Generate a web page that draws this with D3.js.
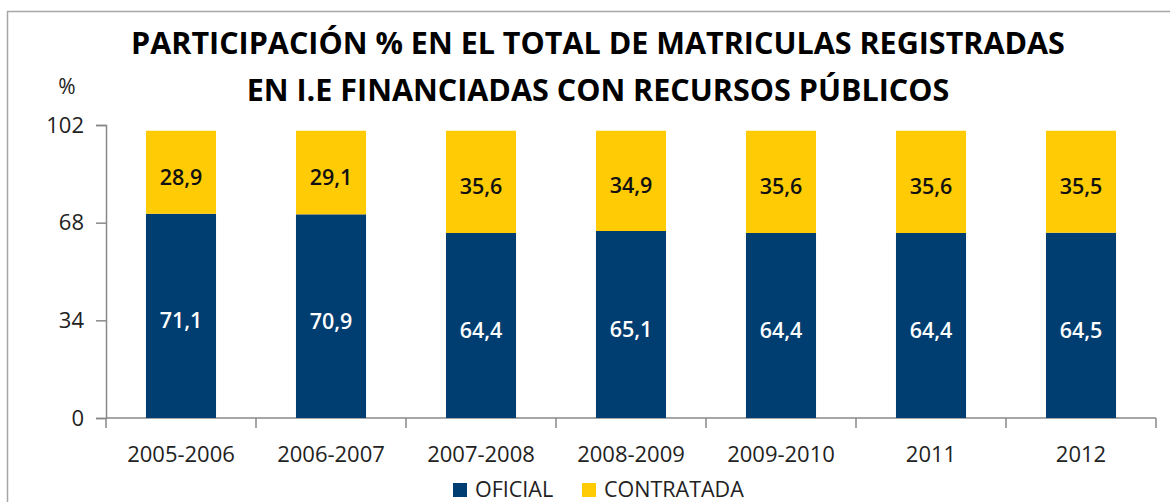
<!DOCTYPE html>
<html><head><meta charset="utf-8">
<script src="https://cdn.jsdelivr.net/npm/d3@7"></script>
<style>body{margin:0;background:#fff}svg{display:block}text{font-family:"Open Sans",sans-serif}</style>
</head><body>
<svg id="c" width="1170" height="502"></svg>
<script>
const categories = ["2005-2006","2006-2007","2007-2008","2008-2009","2009-2010","2011","2012"];
const oficial = [71.1,70.9,64.4,65.1,64.4,64.4,64.5];
const contratada = [28.9,29.1,35.6,34.9,35.6,35.6,35.5];
const yTicks = [0,34,68,102];
const seriesNames = ["OFICIAL","CONTRATADA"];
const colors = ["#003D70","#FFCB05"];
const titleLines = ["PARTICIPACIÓN % EN EL TOTAL DE MATRICULAS REGISTRADAS","EN I.E FINANCIADAS CON RECURSOS PÚBLICOS"];

const svg = d3.select("#c");
// frame
svg.append("path").attr("d","M7.5,502 V11.5 H1170").attr("fill","none").attr("stroke","#a6a6a6").attr("stroke-width",1.5);

const x = d3.scaleBand().domain(categories).range([106,1156]).paddingInner(0.533).paddingOuter(0.2665);
const y = d3.scaleLinear().domain([0,102]).range([418,125]);

// title
svg.selectAll(".title").data(titleLines).join("text")
  .attr("x",598).attr("y",(d,i)=>54+i*47).attr("text-anchor","middle")
  .attr("font-size",30.5).attr("font-weight","bold").attr("fill","#000").text(d=>d);
svg.append("text").attr("x",67).attr("y",94).attr("text-anchor","middle").attr("font-size",21).attr("fill","#222").text("%");

// y axis
const yAxis = svg.append("g").attr("transform","translate(106,0)")
  .call(d3.axisLeft(y).tickValues(yTicks).tickSize(10).tickPadding(12).tickFormat(d3.format("d")));
yAxis.select(".domain").attr("stroke","#888").attr("stroke-width",1.5);
yAxis.selectAll(".tick line").attr("stroke","#888").attr("stroke-width",1.5);
yAxis.selectAll(".tick text").attr("font-size",22).attr("fill","#222").attr("font-family","Open Sans");

// x axis line and boundary ticks
const step = x.step();
const bounds = [x(categories[0]) - (step - x.bandwidth())/2].concat(categories.map(c=>x(c)+x.bandwidth()+(step - x.bandwidth())/2));
svg.append("line").attr("x1",x.range()[0]).attr("x2",x.range()[1]).attr("y1",y(0)).attr("y2",y(0)).attr("stroke","#888").attr("stroke-width",1.5);
svg.selectAll(".xt").data(bounds).join("line").attr("x1",d=>d).attr("x2",d=>d).attr("y1",y(0)).attr("y2",y(0)+10).attr("stroke","#888").attr("stroke-width",1.5);
svg.selectAll(".xl").data(categories).join("text")
  .attr("x",d=>x(d)+x.bandwidth()/2).attr("y",462).attr("text-anchor","middle")
  .attr("font-size",22).attr("fill","#222").text(d=>d);

// stacked bars
const rows = categories.map((c,i)=>({cat:c, OFICIAL:oficial[i], CONTRATADA:contratada[i]}));
const stack = d3.stack().keys(seriesNames)(rows);
const g = svg.append("g");
stack.forEach((s,si)=>{
  g.selectAll(".b"+si).data(s).join("rect")
    .attr("x",d=>x(d.data.cat)).attr("width",x.bandwidth())
    .attr("y",d=>y(d[1])).attr("height",d=>y(d[0])-y(d[1])).attr("fill",colors[si]);
  g.selectAll(".l"+si).data(s).join("text")
    .attr("x",d=>x(d.data.cat)+x.bandwidth()/2).attr("y",d=>(y(d[0])+y(d[1]))/2+12.5)
    .attr("text-anchor","middle").attr("font-size",21.5).attr("font-weight",600)
    .attr("fill",si===0?"#fff":"#111").text(d=>d3.format(".1f")(d[1]-d[0]).replace(".",","));
});

// legend
const lx = [453,582];
seriesNames.forEach((n,i)=>{
  svg.append("rect").attr("x",lx[i]).attr("y",483).attr("width",14).attr("height",14).attr("fill",colors[i]);
  svg.append("text").attr("x",lx[i]+22).attr("y",497).attr("font-size",21.5).attr("fill","#222").text(n);
});
</script>
</body></html>
